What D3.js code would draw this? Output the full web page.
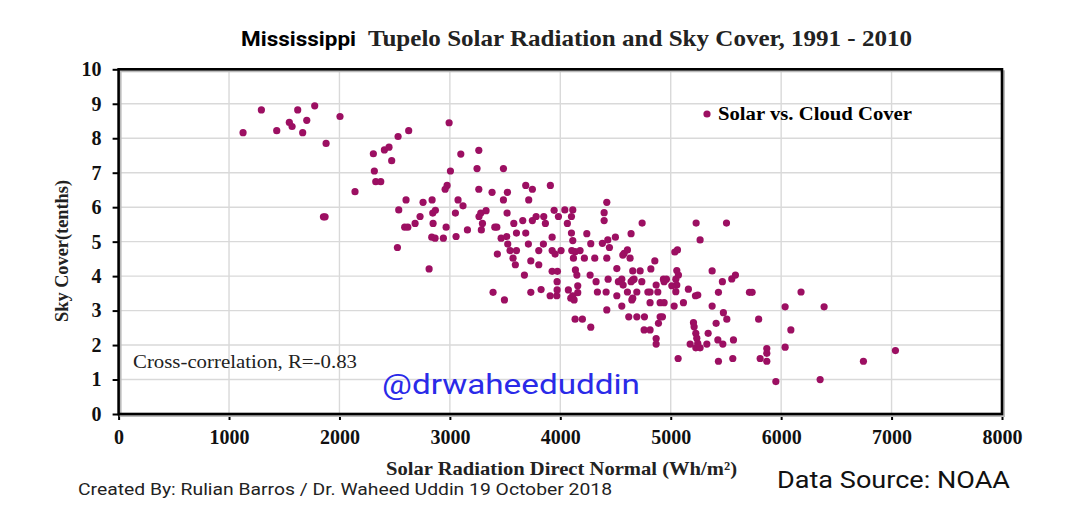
<!DOCTYPE html>
<html>
<head>
<meta charset="utf-8">
<script src="https://cdn.jsdelivr.net/npm/d3@7"></script>
<style>
  body { margin: 0; background: #fff; }
  svg { display: block; }
</style>
</head>
<body>
<svg id="chart" width="1080" height="509"></svg>
<script>
// solar radiation direct normal (Wh/m2) and sky cover (tenths), one entry per point
const solar = [
  1127, 1293, 1432, 1546, 1571, 1622, 1667, 1704, 1776, 1879, 1855, 1870, 2005,
  2531, 2307, 2407, 2449, 2473, 2316, 2329, 2374, 2141, 2537, 2525, 2627, 2993,
  3262, 3099, 3246, 3485, 3005, 2975, 2957, 3262, 3382, 3521, 3687, 3747, 3910,
  2603, 2757, 2839, 3074, 3119, 3485, 3714, 2845, 2869, 3050, 3280, 3264, 3328,
  3518, 3944, 3983, 2730, 2685, 2591, 2619, 2848, 2966, 3159, 3295, 3285, 3407,
  3425, 3579, 3660, 3747, 3781, 3850, 3865, 3603, 3687, 3926, 2836, 2866, 2941,
  3056, 3464, 3515, 2812, 3524, 3545, 3603, 3430, 3572, 3593, 3711, 3733, 3805,
  3805, 3847, 3926, 3953, 3675, 3926, 3974, 3971, 3391, 3494, 3733, 3826, 3908,
  3968, 3971, 4041, 4113, 4101, 4064, 4421, 4397, 4397, 4741, 4101, 4113, 4240,
  4276, 4381, 4430, 4445, 4499, 4641, 4007, 4104, 4134, 4179, 4119, 4218, 4312,
  4421, 4578, 4608, 4632, 4566, 4856, 5037, 5061, 4137, 4150, 4270, 4512, 4656,
  4723, 4656, 4820, 4324, 4433, 4526, 4557, 4569, 4641, 4668, 4738, 4934, 4961,
  4940, 5046, 5055, 4868, 4073, 4158, 4158, 4095, 4113, 4125, 4336, 4415, 4512,
  4608, 4648, 4656, 4693, 4793, 4813, 4883, 4813, 4904, 4940, 5031, 4557, 4421,
  4134, 4200, 4276, 4620, 4693, 4762, 4904, 4925, 4889, 4759, 4813, 4868, 5230,
  5505, 5266, 5375, 5055, 5070, 5468, 5553, 5586, 5160, 5224, 5245, 5432, 5713,
  5737, 5115, 5375, 5477, 5508, 5796, 5206, 5212, 5227, 5236, 5411, 5339, 5327,
  5427, 5472, 5176, 5227, 5266, 5245, 5568, 5432, 5562, 5067, 5810, 5870, 5870,
  5870, 5952, 4868, 5046, 6036, 6088, 6036, 6180, 6389, 7035, 6745, 6353, 5010
]
const skyCover = [
  8.16, 8.82, 8.22, 8.46, 8.34, 8.82, 8.16, 8.52, 8.94, 7.85, 5.72, 5.72, 8.63,
  8.05, 7.55, 7.66, 7.74, 7.35, 7.05, 6.74, 6.74, 6.45, 5.92, 4.83, 8.22, 8.45,
  7.65, 7.54, 7.12, 7.12, 7.05, 6.63, 6.52, 6.52, 6.43, 6.43, 6.63, 6.52, 6.63,
  6.21, 6.14, 6.21, 6.21, 6.04, 6.21, 6.21, 5.83, 5.91, 5.83, 5.83, 5.73, 5.9,
  5.83, 5.91, 5.73, 5.73, 5.53, 5.42, 5.42, 5.53, 5.42, 5.34, 5.53, 5.34, 5.42,
  5.42, 5.53, 5.61, 5.61, 5.73, 5.73, 5.53, 5.25, 5.25, 5.13, 5.13, 5.1, 5.1,
  5.15, 5.1, 5.15, 4.21, 4.93, 4.74, 4.74, 4.64, 4.52, 4.33, 4.93, 4.44, 4.74,
  4.33, 4.93, 4.74, 4.64, 4.03, 4.14, 4.14, 3.84, 3.53, 3.31, 3.53, 3.61, 3.43,
  3.43, 3.6, 5.92, 5.92, 5.73, 5.53, 6.14, 5.84, 5.61, 5.54, 5.25, 5.03, 5.23,
  4.94, 4.95, 5.05, 4.83, 5.13, 5.23, 4.74, 4.74, 4.71, 4.74, 4.52, 4.52, 4.52,
  4.52, 4.66, 4.76, 4.52, 4.61, 4.44, 4.7, 4.76, 4.18, 4.03, 4.03, 4.22, 4.15,
  4.15, 3.89, 4.21, 3.84, 3.91, 3.84, 3.91, 3.74, 3.84, 3.91, 3.84, 3.91, 3.91,
  3.84, 3.91, 3.74, 3.74, 3.6, 3.72, 3.52, 3.36, 3.43, 3.31, 3.54, 3.54, 3.43,
  3.54, 3.31, 3.36, 3.54, 3.54, 3.54, 3.54, 3.23, 3.23, 3.23, 3.13, 3.13, 3.02,
  2.75, 2.75, 2.52, 2.82, 2.82, 2.82, 2.82, 2.82, 2.63, 2.44, 2.44, 2.19, 5.54,
  5.54, 5.05, 4.15, 4.16, 4.03, 3.84, 3.92, 4.03, 3.62, 3.43, 3.45, 3.53, 3.53,
  3.53, 3.23, 3.13, 2.94, 2.75, 2.75, 2.65, 2.53, 2.34, 2.2, 2.63, 2.34, 2.03,
  2.15, 2.03, 2.03, 1.92, 1.92, 2.05, 2.15, 1.53, 1.61, 1.61, 1.61, 1.9, 1.76,
  1.53, 0.94, 2.03, 3.55, 3.11, 2.44, 1.94, 3.54, 3.11, 1.84, 1.53, 1.0, 3.72
]
const xTicks = [0, 1000, 2000, 3000, 4000, 5000, 6000, 7000, 8000]
const yTicks = [0, 1, 2, 3, 4, 5, 6, 7, 8, 9, 10]

const points = solar.map((s, i) => ({ solar: s, sky: skyCover[i] }))

const svg = d3.select('#chart')
const serif = '"Liberation Serif", "Times New Roman", serif'
const sans = 'Roboto, "Noto Sans", sans-serif'
const dotColor = '#9c0f62'

const x = d3.scaleLinear().domain([0, 8000]).range([118.6, 1002])
const y = d3.scaleLinear().domain([0, 10]).range([414, 69.3])

// gridlines
svg.append('g')
    .selectAll('line')
    .data(xTicks.slice(1, -1))
    .enter()
    .append('line')
    .attr('x1', d => x(d)).attr('x2', d => x(d))
    .attr('y1', y(10)).attr('y2', y(0))
    .attr('stroke', '#d9d9d9').attr('stroke-width', 1.4)

svg.append('g')
    .selectAll('line')
    .data(yTicks.slice(1, -1))
    .enter()
    .append('line')
    .attr('x1', x(0)).attr('x2', x(8000))
    .attr('y1', d => y(d)).attr('y2', d => y(d))
    .attr('stroke', '#d9d9d9').attr('stroke-width', 1.4)

// axes
const xAxis = svg.append('g')
    .attr('transform', `translate(0, ${y(0)})`)
    .call(d3.axisBottom(x).tickValues(xTicks).tickFormat(d3.format('d')).tickSize(6).tickPadding(10))
xAxis.select('.domain').remove()
xAxis.selectAll('line').attr('stroke', '#000').attr('stroke-width', 2)
xAxis.selectAll('text')
    .attr('font-family', serif).attr('font-weight', 'bold').attr('font-size', 20)
    .attr('fill', '#111')

const yAxis = svg.append('g')
    .attr('transform', `translate(${x(0)}, 0)`)
    .call(d3.axisLeft(y).tickValues(yTicks).tickSize(6).tickPadding(11))
yAxis.select('.domain').remove()
yAxis.selectAll('line').attr('stroke', '#000').attr('stroke-width', 2)
yAxis.selectAll('text')
    .attr('font-family', serif).attr('font-weight', 'bold').attr('font-size', 20)
    .attr('fill', '#111')

// frame with a soft shadow
svg.append('rect')
    .attr('x', x(0) + 2).attr('y', y(10) + 2)
    .attr('width', x(8000) - x(0)).attr('height', y(0) - y(10))
    .attr('fill', 'none').attr('stroke', '#bbb').attr('stroke-width', 2)
svg.append('rect')
    .attr('x', x(0)).attr('y', y(10))
    .attr('width', x(8000) - x(0)).attr('height', y(0) - y(10))
    .attr('fill', 'none').attr('stroke', '#000').attr('stroke-width', 2.6)

// points
svg.append('g')
    .selectAll('circle')
    .data(points)
    .enter()
    .append('circle')
    .attr('cx', d => x(d.solar))
    .attr('cy', d => y(d.sky))
    .attr('r', 3.6)
    .attr('fill', dotColor)

// legend
svg.append('circle').attr('cx', 707).attr('cy', 114).attr('r', 3.6).attr('fill', dotColor)
svg.append('text')
    .attr('x', 718).attr('y', 120)
    .attr('font-family', serif).attr('font-weight', 'bold').attr('font-size', 18)
    .attr('textLength', 194).attr('lengthAdjust', 'spacingAndGlyphs')
    .text('Solar vs. Cloud Cover')

svg.append('text')
    .attr('x', 133).attr('y', 368)
    .attr('font-family', serif).attr('font-size', 18).attr('fill', '#222')
    .attr('textLength', 224).attr('lengthAdjust', 'spacingAndGlyphs')
    .text('Cross-correlation,  R=-0.83')

// titles
svg.append('text')
    .attr('x', 241).attr('y', 46)
    .attr('font-family', sans).attr('font-weight', 'bold').attr('font-size', 21)
    .attr('textLength', 115).attr('lengthAdjust', 'spacingAndGlyphs')
    .text('Mississippi')
svg.append('text')
    .attr('x', 368).attr('y', 46)
    .attr('font-family', serif).attr('font-weight', 'bold').attr('font-size', 24)
    .attr('fill', '#222')
    .attr('textLength', 544).attr('lengthAdjust', 'spacingAndGlyphs')
    .text('Tupelo Solar Radiation and Sky Cover, 1991 - 2010')

svg.append('text')
    .attr('x', 386).attr('y', 475)
    .attr('font-family', serif).attr('font-weight', 'bold').attr('font-size', 19)
    .attr('fill', '#222')
    .attr('textLength', 351).attr('lengthAdjust', 'spacingAndGlyphs')
    .text('Solar Radiation  Direct Normal (Wh/m²)')

svg.append('text')
    .attr('transform', 'translate(68, 251) rotate(-90)')
    .attr('text-anchor', 'middle')
    .attr('font-family', serif).attr('font-weight', 'bold').attr('font-size', 18)
    .attr('fill', '#222')
    .attr('textLength', 142).attr('lengthAdjust', 'spacingAndGlyphs')
    .text('Sky Cover(tenths)')

// credits
svg.append('text')
    .attr('x', 382).attr('y', 394)
    .attr('font-family', sans).attr('font-size', 28).attr('fill', '#2a2ae8')
    .attr('textLength', 258).attr('lengthAdjust', 'spacingAndGlyphs')
    .text('@drwaheeduddin')

svg.append('text')
    .attr('x', 777).attr('y', 488)
    .attr('font-family', sans).attr('font-size', 24).attr('fill', '#111')
    .attr('textLength', 233).attr('lengthAdjust', 'spacingAndGlyphs')
    .text('Data Source: NOAA')

svg.append('text')
    .attr('x', 78).attr('y', 495)
    .attr('font-family', sans).attr('font-size', 16).attr('fill', '#222')
    .attr('textLength', 534).attr('lengthAdjust', 'spacingAndGlyphs')
    .text('Created By: Rulian Barros / Dr. Waheed Uddin  19 October 2018')
</script>
</body>
</html>
